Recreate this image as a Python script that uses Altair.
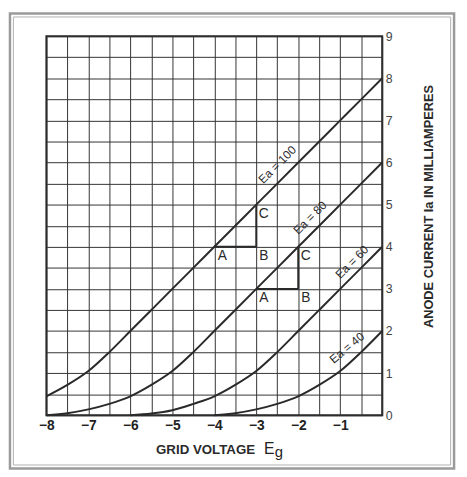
import altair as alt
import pandas as pd

# ---- data ----
eg_100 = [-8.0, -7.5, -7.0, -6.5, -6.0, -5.5, -5.0, -4.5, -4.0, -3.5, -3.0, -2.5, -2.0, -1.5, -1.0, -0.5, 0.0]
ia_100 = [0.45, 0.72, 1.05, 1.5, 2.0, 2.5, 3.0, 3.5, 4.0, 4.5, 5.0, 5.5, 6.0, 6.5, 7.0, 7.5, 8.0]

eg_80 = [-8.0, -7.5, -7.0, -6.5, -6.0, -5.5, -5.0, -4.5, -4.0, -3.5, -3.0, -2.5, -2.0, -1.5, -1.0, -0.5, 0.0]
ia_80 = [0.0, 0.05, 0.14, 0.27, 0.45, 0.72, 1.05, 1.5, 2.0, 2.5, 3.0, 3.5, 4.0, 4.5, 5.0, 5.5, 6.0]

eg_60 = [-6.0, -5.5, -5.0, -4.5, -4.0, -3.5, -3.0, -2.5, -2.0, -1.5, -1.0, -0.5, 0.0]
ia_60 = [0.0, 0.04, 0.12, 0.27, 0.45, 0.72, 1.05, 1.5, 2.0, 2.5, 3.0, 3.5, 4.0]

eg_40 = [-4.0, -3.5, -3.0, -2.5, -2.0, -1.5, -1.0, -0.5, 0.0]
ia_40 = [0.0, 0.05, 0.14, 0.27, 0.45, 0.72, 1.05, 1.5, 2.0]

curve_names = ["Ea=100", "Ea=80", "Ea=60", "Ea=40"]

# curve labels
lab_text = ["Ea = 100", "Ea = 80", "Ea = 60", "Ea = 40"]
lab_eg = [-2.5, -1.72, -0.72, -0.84]
lab_ia = [5.95, 4.69, 3.64, 1.6]
lab_angle = [315, 315, 315, 320]

# A-B-C construction segments
seg_eg = [-4.0, -3.0, -3.0, -2.0]
seg_ia = [4.0, 4.0, 3.0, 3.0]
seg_eg2 = [-3.0, -3.0, -2.0, -2.0]
seg_ia2 = [4.0, 5.0, 3.0, 4.0]

abc_text = ["A", "B", "C", "A", "B", "C"]
abc_eg = [-3.81, -2.82, -2.82, -2.82, -1.82, -1.82]
abc_ia = [3.77, 3.77, 4.78, 2.78, 2.78, 3.78]

# axis ticks / grid
x_grid = [-8.0, -7.5, -7.0, -6.5, -6.0, -5.5, -5.0, -4.5, -4.0, -3.5, -3.0, -2.5, -2.0, -1.5, -1.0, -0.5, 0.0]
y_grid = [0.0, 0.5, 1.0, 1.5, 2.0, 2.5, 3.0, 3.5, 4.0, 4.5, 5.0, 5.5, 6.0, 6.5, 7.0, 7.5, 8.0, 8.5, 9.0]

# ---- tables ----
rows = []
for name, xs, ys in zip(curve_names, [eg_100, eg_80, eg_60, eg_40], [ia_100, ia_80, ia_60, ia_40]):
    for x, y in zip(xs, ys):
        rows.append({"curve": name, "Eg": x, "Ia": y})
curves_df = pd.DataFrame(rows)
labels_df = pd.DataFrame({"text": lab_text, "Eg": lab_eg, "Ia": lab_ia, "angle": lab_angle})
seg_df = pd.DataFrame({"Eg": seg_eg, "Ia": seg_ia, "Eg2": seg_eg2, "Ia2": seg_ia2})
abc_df = pd.DataFrame({"text": abc_text, "Eg": abc_eg, "Ia": abc_ia})
one = pd.DataFrame({"k": [0]})

INK = "#2a2a2a"

x_enc = alt.X(
    "Eg:Q",
    scale=alt.Scale(domain=[-8, 0], nice=False, zero=False),
    axis=alt.Axis(
        values=x_grid,
        labelExpr="datum.value < 0 && datum.value % 1 == 0 ? format(datum.value, 'd') : ''",
        title=None, grid=True, gridColor="#333333", gridWidth=1, gridOpacity=1,
        domain=False, ticks=False, labelOverlap=False, labelFlush=False,
        labelFont="Liberation Sans", labelFontSize=14, labelFontWeight="bold",
        labelColor="#222222", labelPadding=3,
    ),
)
y_enc = alt.Y(
    "Ia:Q",
    scale=alt.Scale(domain=[0, 9], nice=False),
    axis=alt.Axis(
        orient="right", values=y_grid,
        labelExpr="datum.value % 1 == 0 ? format(datum.value, 'd') : ''",
        title=None, grid=True, gridColor="#333333", gridWidth=1, gridOpacity=1,
        domain=False, ticks=False, labelOverlap=False, labelFlush=False,
        labelFont="Liberation Sans", labelFontSize=12.5, labelColor="#444444",
        labelPadding=3,
    ),
)

curves = alt.Chart(curves_df).mark_line(
    color=INK, strokeWidth=2, interpolate="monotone"
).encode(x=x_enc, y=y_enc, detail="curve:N")

segs = alt.Chart(seg_df).mark_rule(color=INK, strokeWidth=2).encode(
    x=x_enc, y=y_enc, x2="Eg2:Q", y2="Ia2:Q"
)

abc = alt.Chart(abc_df).mark_text(
    font="Liberation Sans", fontSize=14, color=INK, align="center", baseline="middle"
).encode(x=x_enc, y=y_enc, text="text:N")

curve_labels = alt.Chart(labels_df).mark_text(
    font="Liberation Sans", fontSize=12, color=INK, align="center", baseline="middle"
).encode(x=x_enc, y=y_enc, text="text:N", angle=alt.Angle("angle:Q", scale=None))

frame_outer = alt.Chart(one).mark_rect(
    filled=False, stroke="#9a9a9a", strokeWidth=2.5
).encode(x=alt.value(-37), x2=alt.value(414), y=alt.value(-23), y2=alt.value(439))
frame_inner = alt.Chart(one).mark_rect(
    filled=False, stroke="#b0b0b0", strokeWidth=1
).encode(x=alt.value(-33.5), x2=alt.value(410.5), y=alt.value(-19.5), y2=alt.value(435.5))

x_title = alt.Chart(one).mark_text(
    font="Liberation Sans", fontSize=13.5, fontWeight="bold", color="#2a2a2a",
    align="right", baseline="alphabetic", text="GRID VOLTAGE"
).encode(x=alt.value(212), y=alt.value(424))
x_title_e = alt.Chart(one).mark_text(
    font="Liberation Sans", fontSize=16, color="#222222", align="left", baseline="alphabetic",
    text="E"
).encode(x=alt.value(221), y=alt.value(424))
x_title_g = alt.Chart(one).mark_text(
    font="Liberation Sans", fontSize=15, color="#222222", align="left", baseline="alphabetic",
    text="g"
).encode(x=alt.value(232), y=alt.value(427))

y_title = alt.Chart(one).mark_text(
    font="Liberation Sans", fontSize=13, fontWeight="bold", color="#2a2a2a",
    align="center", baseline="middle",
    angle=270, text="ANODE CURRENT Ia IN MILLIAMPERES"
).encode(x=alt.value(389), y=alt.value(173))

chart = alt.layer(
    frame_outer, frame_inner, curves, segs, abc, curve_labels,
    x_title, x_title_e, x_title_g, y_title,
).properties(
    width=341, height=385,
    padding={"left": 39, "top": 25, "right": 78, "bottom": 55},
    autosize=alt.AutoSizeParams(type="none"),
    background="white",
).configure_view(stroke="#222222", strokeWidth=2)

chart.save("out.html", embed_options={"renderer": "svg", "actions": False})
